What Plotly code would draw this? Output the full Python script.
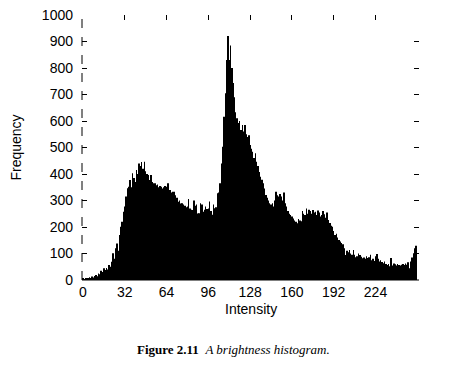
import plotly.graph_objects as go

intensity = list(range(256))
frequency = [
    4, 3, 6, 8, 5, 10, 7, 13, 9, 15,
    19, 14, 25, 22, 35, 30, 44, 38, 45, 40,
    57, 50, 69, 101, 80, 120, 138, 110, 170, 201,
    220, 258, 277, 315, 346, 352, 377, 350, 403, 385,
    370, 415, 400, 440, 430, 445, 420, 446, 410, 400,
    396, 377, 396, 370, 365, 365, 358, 360, 350, 355,
    352, 345, 350, 355, 352, 365, 340, 340, 330, 333,
    333, 320, 310, 295, 300, 289, 290, 285, 280, 275,
    277, 306, 270, 265, 264, 300, 280, 285, 251, 252,
    290, 285, 258, 265, 277, 268, 270, 296, 260, 246,
    285, 271, 275, 327, 330, 365, 440, 503, 616, 705,
    830, 921, 830, 885, 800, 743, 690, 633, 610, 592,
    600, 566, 585, 560, 585, 550, 540, 546, 509, 495,
    484, 460, 478, 446, 430, 408, 390, 378, 365, 345,
    321, 310, 300, 290, 285, 290, 277, 300, 333, 320,
    315, 325, 315, 300, 330, 290, 277, 260, 250, 245,
    240, 232, 225, 220, 214, 230, 225, 222, 260, 250,
    245, 270, 250, 265, 260, 250, 264, 255, 258, 245,
    262, 255, 240, 245, 260, 248, 235, 255, 226, 215,
    205, 201, 185, 170, 175, 160, 151, 145, 140, 135,
    120, 94, 110, 105, 113, 100, 95, 113, 95, 86,
    90, 100, 94, 88, 82, 85, 80, 90, 83, 86,
    95, 75, 80, 72, 90, 98, 80, 70, 75, 68,
    63, 70, 60, 57, 60, 52, 83, 55, 62, 59,
    55, 60, 57, 55, 58, 60, 57, 62, 58, 67,
    44, 70, 85, 101, 120, 129,
]
x_ticks = [0, 32, 64, 96, 128, 160, 192, 224]
y_ticks = [0, 100, 200, 300, 400, 500, 600, 700, 800, 900, 1000]

tick_font = dict(family="Liberation Sans Narrow, Liberation Sans, Arial", size=14, color="black")

fig = go.Figure(go.Bar(x=intensity, y=frequency, marker=dict(color="black", line=dict(width=0))))

fig.update_layout(
    width=444, height=360,
    margin=dict(l=74, r=33, t=7, b=88, autoexpand=False),
    paper_bgcolor="white", plot_bgcolor="white",
    bargap=0.6, showlegend=False,
    xaxis=dict(
        range=[-0.7, 257.3], tickvals=x_ticks, ticktext=[str(v) for v in x_ticks],
        ticks="inside", ticklen=5, tickcolor="black", tickwidth=1,
        mirror="ticks", showline=False, showgrid=False, zeroline=False,
        tickfont=tick_font, ticklabelstandoff=2, automargin=False,
        ticklabeloverflow="allow",
    ),
    yaxis=dict(
        range=[0, 1000], tickvals=y_ticks,
        ticks="inside", ticklen=5, tickcolor="black", tickwidth=1,
        mirror="ticks", showline=False, showgrid=False, zeroline=False,
        tickfont=tick_font, ticklabelstandoff=8, automargin=False,
        ticklabeloverflow="allow",
        title=dict(text="Frequency", font=tick_font, standoff=24),
    ),
    shapes=[
        dict(type="line", xref="paper", yref="paper", x0=0, x1=0, y0=0, y1=1,
             line=dict(color="black", width=1, dash="dash")),
        dict(type="line", xref="paper", yref="paper", x0=0, x1=1, y0=0, y1=0,
             line=dict(color="black", width=1)),
    ],
    annotations=[
        dict(xref="paper", yref="paper", x=0.5, y=-0.108, xanchor="center", yanchor="middle",
             text="Intensity", showarrow=False, font=tick_font),
        dict(xref="paper", yref="paper", x=0.157, y=-0.264, xanchor="left", yanchor="middle",
             text="<b>Figure 2.11</b>  <i>A brightness histogram.</i>", showarrow=False,
             font=dict(family="Liberation Serif, DejaVu Serif", size=13, color="black")),
    ],
)

fig.write_html("out.html")
